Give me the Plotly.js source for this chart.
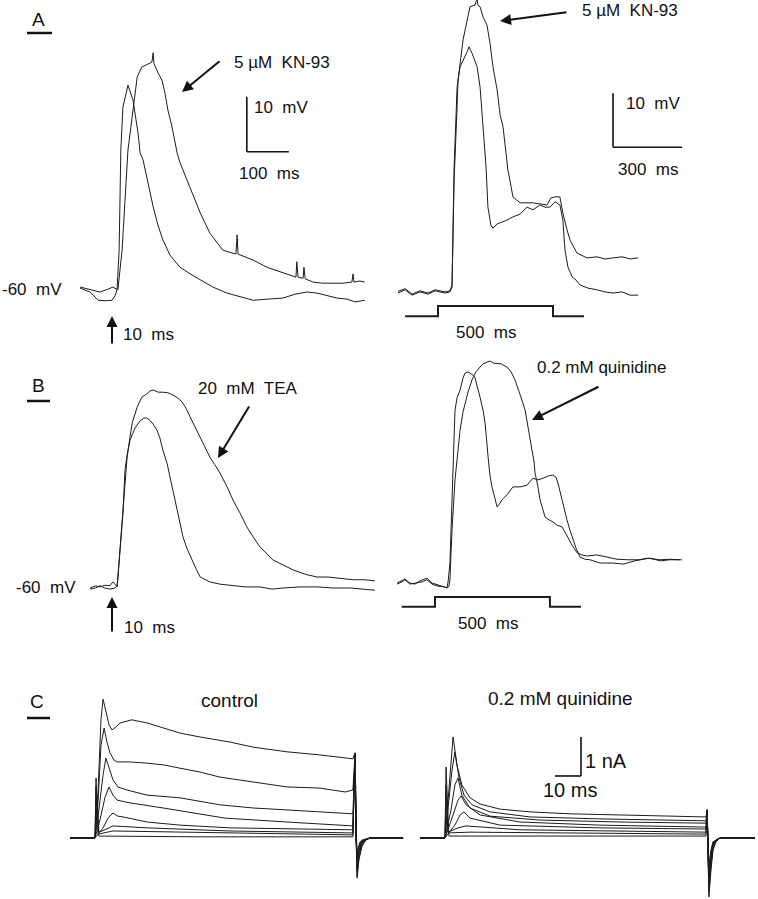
<!DOCTYPE html>
<html>
<head>
<meta charset="utf-8">
<script src="https://cdn.plot.ly/plotly-3.0.1.min.js"></script>
<style>
  html, body { margin: 0; padding: 0; background: #fff; }
  #fig { width: 758px; height: 899px; }
</style>
</head>
<body>
<div id="fig"></div>
<script>
// ---- panel A, left: time (ms) from stimulus, membrane potential (mV)
const aLeftCtrlT = [-76,-52,-33,-17,0,7,12,17,21,26,38,50,62,67,74,86,98,110,121,138,162,186,210,240,274,305,336,371,407,436,464,488,512,536,560,579,602];
const aLeftCtrlV = [-59.3,-60,-61.5,-61.6,-61.5,-60.7,-59.6,-52.4,-34.2,-26.4,-22.4,-25.1,-31.1,-34.7,-36,-40.5,-44.5,-48,-50.5,-53.3,-55.5,-56.7,-57.8,-59.1,-60.2,-60.9,-61.5,-61.3,-61.1,-60.4,-60,-60.2,-60.7,-61.1,-61.3,-61.8,-61.5];
const aLeftKnT = [-76,-52,-29,-10,2,14,24,31,38,48,60,71,83,90,95,98,100,110,119,126,133,143,155,162,186,210,233,264,295,298,300,317,336,369,407,438,440,443,455,457,460,479,502,526,550,571,574,576,590,602];
const aLeftKnV = [-59.1,-59.6,-60,-59.5,-59.1,-59.6,-52.4,-43.3,-34.2,-28.2,-20.9,-19.1,-18.7,-18.4,-18.2,-16.5,-18.5,-20.2,-21.5,-23.8,-26.9,-30,-34.7,-36.5,-40.9,-45.6,-49.3,-52.4,-53.1,-49.6,-53.1,-53.6,-54.2,-55.5,-56.5,-57.3,-54.5,-57.3,-57.5,-55.5,-57.6,-58.2,-58.4,-58.4,-58.4,-58.2,-56.7,-58.2,-58,-58.2];

// ---- panel A, right: 500 ms current step
const aRightCtrlT = [-174,-143,-113,-78,-43,-13,30,52,61,70,83,96,126,135,148,170,183,191,209,217,230,239,257,270,300,326,357,387,413,443,465,487,509,530,543,552,565,583,600,617,652,691,726,761,800,835,870];
const aRightCtrlV = [-60,-59.4,-60.4,-59.8,-60.2,-59.6,-60,-59.8,-58.9,-36.7,-21.9,-18.1,-15.4,-14.4,-15.6,-18.1,-21.9,-26.1,-36.7,-44.1,-47.4,-48,-47.2,-47,-46.5,-45.9,-45.4,-44.1,-44.6,-43.7,-44.1,-44.1,-43.1,-43.7,-46.5,-52,-55.2,-57,-57.6,-58.5,-59.1,-59.4,-59.8,-60,-59.8,-60.4,-60.4];
const aRightKnT = [-174,-143,-113,-78,-43,-13,30,52,61,70,83,87,109,126,139,152,161,165,170,174,183,196,213,226,239,257,270,283,304,326,357,387,413,443,474,491,509,530,543,561,574,604,648,691,726,761,800,835,870];
const aRightKnV = [-59.7,-59.2,-60.2,-59.6,-60,-59.4,-59.8,-59.6,-58.5,-39.1,-25.6,-20.6,-13.1,-9.4,-7,-6.8,-6.7,-6.1,-5.7,-6.7,-7,-8.9,-10.4,-13.7,-18.1,-22.4,-27,-29.3,-37.2,-42.2,-43.3,-43.3,-43.3,-43.5,-43.7,-42.4,-42.2,-42.2,-45.2,-48.3,-50.2,-52.6,-53.5,-53.3,-53.7,-53.5,-53.3,-53.7,-53.5];
const aStepT = [-143,0,0,500,500,635];
const aStepV = [-64.3,-64.3,-62.4,-62.4,-64.3,-64.3];

// ---- panel B, left: 10 ms stimulus, control and 20 mM TEA
const bLeftCtrlT = [-52,-40,-29,-17,-5,7,12,14,21,26,31,36,43,55,67,76,83,90,98,107,114,121,131,138,145,155,162,169,179,190,200,210,221,233,257,288,317,352,381,407,448,488,526,567,595,626];
const bLeftCtrlV = [-60.2,-60,-59.6,-60,-60.2,-60,-59.6,-58.2,-51.3,-46.4,-38.5,-35.8,-33.1,-30.9,-29.6,-29.1,-29.1,-29.5,-30.2,-31.3,-32.7,-34.9,-37.3,-39.8,-42.5,-45.8,-48.5,-50.7,-52.9,-54.9,-56.5,-58,-58.5,-58.9,-59.3,-59.5,-59.8,-59.8,-60.2,-60,-59.8,-59.8,-60,-60,-60.2,-60.4];
const bLeftTeaT = [-52,-40,-29,-17,-5,2,7,12,14,21,26,31,36,43,48,60,71,83,90,98,110,121,133,145,157,167,176,186,198,210,221,233,245,257,274,288,305,321,336,352,369,383,407,431,460,488,514,543,574,602,626];
const bLeftTeaV = [-60,-59.6,-59.8,-59.5,-59.6,-58.9,-59.3,-59.8,-58,-51.3,-46.4,-41.3,-36.2,-32.5,-30,-27.1,-25.3,-24.7,-24.2,-24,-24.4,-24.4,-24.5,-24.9,-25.5,-26.2,-27.3,-28.9,-30.7,-32.5,-34.4,-36.2,-37.6,-39.1,-41.6,-44,-46.4,-48.9,-50.7,-52.5,-53.8,-54.9,-55.8,-56.7,-57.5,-58,-58,-58.2,-58.5,-58.5,-58.7];

// ---- panel B, right: 500 ms step, control and 0.2 mM quinidine
const bRightCtrlT = [-165,-144,-131,-109,-87,-65,-35,-13,13,39,52,57,65,74,78,87,96,109,122,131,144,152,165,174,187,196,209,218,231,239,248,261,270,283,291,313,339,370,400,426,448,470,492,513,526,535,552,566,574,587,596,613,631,653,674,718,774,818,870,922,979,1022,1066];
const bRightCtrlV = [-60,-59.6,-59.3,-60,-60.2,-59.6,-59.1,-60,-60.4,-60.7,-60.9,-59.8,-56.3,-44.6,-37.8,-28,-25.7,-24.3,-22,-21.1,-20.9,-21.1,-21.5,-22,-23.9,-25.6,-28,-30.4,-36.7,-40,-42.2,-44.6,-45.9,-45.2,-44.6,-43.7,-42.2,-42.2,-41.9,-40.6,-40.9,-40.6,-40.2,-40,-40.4,-41.5,-44.6,-46.9,-48.3,-50.2,-51.5,-53.5,-55.2,-55.6,-55.7,-56.3,-56.3,-56.5,-55.9,-55.4,-55.7,-55.6,-55.7];
const bRightQuinT = [-165,-144,-131,-109,-83,-57,-35,-13,13,39,52,61,65,74,87,100,109,122,131,144,161,178,196,209,226,239,257,270,287,313,331,348,365,378,392,400,413,422,431,435,448,457,470,479,496,513,531,552,566,579,596,618,639,661,705,748,792,840,892,935,979,1022,1074];
const bRightQuinV = [-60.2,-59.8,-59.4,-60.2,-60,-59.8,-59.4,-60.2,-60.6,-60.7,-60.9,-60.6,-59.4,-50.2,-40.9,-35.4,-31.7,-28.3,-26.7,-24.6,-22.4,-20.9,-20,-19.4,-19.1,-18.9,-19.3,-19.3,-19.4,-20,-20.9,-22.4,-24.3,-26.1,-28,-29.8,-33,-35.4,-37.6,-39.6,-42.2,-44.6,-46.5,-47.8,-48.3,-48.7,-49.3,-49.6,-50.6,-51.7,-53,-54.4,-54.8,-55,-54.8,-55.2,-55.6,-55.7,-55.7,-55.4,-55.9,-55.7,-55.7];
const bStepT = [-145,0,0,500,500,635];
const bStepV = [-64.4,-64.4,-62.6,-62.6,-64.4,-64.4];

// ---- panel C: whole-cell currents (nA) during 100 ms voltage steps
const cLeftT = [
  [-9.6,0,1.2,2.3,3.1,4.2,5.4,6.5,8.1,9.6,14.2,20,25,32.7,40.4,51.9,60.8,73.8,86.5,99.2,100,100.4,100.8,101.5,102.7,104.2,105.8,118.5],
  [-9.6,0,1.2,2.3,3.5,4.6,5.8,7.3,8.5,13.5,20,26.9,32.7,40.4,48.1,60.8,73.8,86.5,96.2,99.2,100,100.4,100.8,101.5,102.7,104.2,105.8,118.5],
  [-9.6,0,1.5,3.1,4.2,5.4,6.9,8.8,12.3,20,32.7,48.1,60.8,73.8,86.5,99.2,100,100.4,100.8,101.5,102.7,104.2,105.8,118.5],
  [-9.6,0,1.9,3.8,5.4,6.9,8.5,13.5,26.2,50,73.8,99.2,100,100.4,100.8,101.5,102.7,104.2,105.8,118.5],
  [-9.6,0,3.1,5,6.9,8.8,10.8,20,32.7,51.9,99.2,100,100.4,100.8,101.5,102.7,104.2,105.8,118.5],
  [-9.6,0,0.8,1.5,3.8,6.9,20,51.9,99.2,100,100.4,100.8,101.5,102.7,105.8,118.5],
  [-9.6,0,0.4,1.2,6.9,51.9,99.2,100,100.4,100.8,101.5,102.7,105.8,118.5],
  [-9.6,0,0.4,0.8,1.5,40.4,99.2,100,100.4,100.8,101.9,105.8,118.5]
];
const cLeftI = [
  [0,0,1.23,3.03,3.56,3.23,2.9,2.77,2.85,2.95,3.03,2.95,2.85,2.69,2.59,2.46,2.33,2.21,2.13,2.03,2.18,0,-1.03,-0.56,-0.21,-0.05,0,0],
  [0,0,0.97,2.38,2.82,2.46,2.18,2,1.95,1.95,1.92,1.87,1.79,1.69,1.56,1.44,1.31,1.28,1.18,1.23,2.18,0,-0.97,-0.51,-0.18,-0.05,0,0],
  [0,0,0.72,1.62,2.05,1.79,1.49,1.31,1.23,1.1,1.03,0.85,0.77,0.72,0.67,0.62,2.18,0,-0.87,-0.46,-0.15,-0.03,0,0],
  [0,0,0.46,1.03,1.31,1.1,0.97,0.9,0.77,0.51,0.41,0.31,2.18,0,-0.77,-0.38,-0.13,-0.03,0,0],
  [0,0,0.26,0.51,0.64,0.56,0.54,0.41,0.33,0.26,0.21,2.18,0,-0.67,-0.31,-0.1,-0.03,0,0],
  [0,0,1.1,0.15,0.21,0.31,0.26,0.18,0.13,2.18,0,-0.56,-0.26,-0.08,0,0],
  [0,0,1.33,0.1,0.18,0.13,0.08,2.18,0,-0.46,-0.21,-0.05,0,0],
  [0,0,1.54,0.67,0.05,0.03,0.03,2.18,0,-0.36,-0.1,0,0]
];
const cRightT = [
  [-9.6,0,1.5,3.1,4.6,6.5,9.6,13.5,21.2,32.7,48.1,67.3,86.5,100.4,100.8,101.5,102.3,103.1,104.2,105.8,119.2],
  [-9.6,0,1.5,2.7,3.8,5.4,7.3,10.4,17.3,32.7,59.6,100.4,100.8,101.5,102.3,103.1,104.2,105.8,119.2],
  [-9.6,0,2.3,3.8,5,6.5,9.6,17.3,36.5,67.3,100.4,100.8,101.5,102.3,103.1,104.2,105.8,119.2],
  [-9.6,0,3.1,5,6.2,8.1,13.5,28.8,59.6,100.4,100.8,101.5,102.3,103.1,104.2,105.8,119.2],
  [-9.6,0,3.8,5.8,7.3,9.6,21.2,59.6,100.4,100.8,101.5,102.3,103.1,104.2,105.8,119.2],
  [-9.6,0,0.4,1.2,5,8.1,28.8,100.4,100.8,101.5,102.3,103.1,105.8,119.2],
  [-9.6,0,0.4,1.2,9.6,100.4,100.8,101.5,102.3,103.1,105.8,119.2],
  [-9.6,0,0.4,0.8,1.5,100.4,100.8,101.5,102.3,103.1,105.8,119.2]
];
const cRightI = [
  [0,0,1.23,2.59,1.87,1.36,1.03,0.87,0.74,0.67,0.62,0.59,0.56,0.54,0.72,-1.51,-0.82,-0.31,-0.1,0,0],
  [0,0,0.97,1.74,2.21,1.54,1.1,0.85,0.67,0.54,0.49,0.44,0.72,-1.38,-0.72,-0.26,-0.08,0,0],
  [0,0,0.72,1.36,1.54,1.1,0.77,0.56,0.46,0.41,0.38,0.72,-1.28,-0.62,-0.21,-0.05,0,0],
  [0,0,0.59,0.97,1.08,0.85,0.59,0.41,0.33,0.28,0.72,-1.18,-0.56,-0.18,-0.05,0,0],
  [0,0,0.33,0.59,0.67,0.51,0.33,0.26,0.23,0.72,-1.08,-0.51,-0.15,-0.05,0,0],
  [0,0,0.97,0.15,0.26,0.31,0.21,0.15,0.72,-0.95,-0.44,-0.13,0,0],
  [0,0,1.36,0.13,0.15,0.1,0.72,-0.82,-0.36,-0.1,0,0],
  [0,0,1.82,0.97,0.05,0.05,0.72,-0.69,-0.31,-0.1,0,0]
];

// ---- page geometry: every panel gets its own overlaid, hidden axis pair
const W = 758, H = 899;
const FONT = 'Liberation Sans, Arial, Helvetica, sans-serif';
const INK = '#1c1c1c';

// x0/y0: pixel of t=0 and of the reference level, per-pixel units
const panels = [
  { id: '',  x0: 112, xPer: 100 / 42, y0: 292, yPer: 10 / 55, ref: -60 },
  { id: '2', x0: 438, xPer: 300 / 69, y0: 293, yPer: 10 / 54, ref: -60 },
  { id: '3', x0: 112, xPer: 100 / 42, y0: 588, yPer: 10 / 55, ref: -60 },
  { id: '4', x0: 435, xPer: 4.35,     y0: 583, yPer: 10 / 54, ref: -60 },
  { id: '5', x0: 95,  xPer: 10 / 26,  y0: 838, yPer: 1 / 39,  ref: 0 },
  { id: '6', x0: 445, xPer: 10 / 26,  y0: 838, yPer: 1 / 39,  ref: 0 }
];

const layout = {
  width: W, height: H,
  margin: { l: 0, r: 0, t: 0, b: 0 },
  paper_bgcolor: '#fff', plot_bgcolor: 'rgba(0,0,0,0)',
  showlegend: false,
  shapes: [], annotations: []
};

panels.forEach(p => {
  const xa = {
    domain: [0, 1], visible: false, fixedrange: true,
    range: [-p.x0 * p.xPer, (W - p.x0) * p.xPer]
  };
  const ya = {
    domain: [0, 1], visible: false, fixedrange: true,
    range: [p.ref - (H - p.y0) * p.yPer, p.ref + p.y0 * p.yPer]
  };
  if (p.id) {
    xa.overlaying = 'x'; ya.overlaying = 'y';
    xa.anchor = 'y' + p.id; ya.anchor = 'x' + p.id;
  }
  layout['xaxis' + p.id] = xa;
  layout['yaxis' + p.id] = ya;
});

function trace(x, y, id, width) {
  return {
    x: x, y: y, xaxis: 'x' + id, yaxis: 'y' + id,
    type: 'scatter', mode: 'lines', hoverinfo: 'skip',
    line: { color: INK, width: width || 1 }
  };
}

const data = [
  trace(aLeftCtrlT, aLeftCtrlV, ''),
  trace(aLeftKnT, aLeftKnV, ''),
  trace(aRightCtrlT, aRightCtrlV, '2'),
  trace(aRightKnT, aRightKnV, '2'),
  trace(aStepT, aStepV, '2', 2),
  trace(bLeftCtrlT, bLeftCtrlV, '3'),
  trace(bLeftTeaT, bLeftTeaV, '3'),
  trace(bRightCtrlT, bRightCtrlV, '4'),
  trace(bRightQuinT, bRightQuinV, '4'),
  trace(bStepT, bStepV, '4', 2)
];
cLeftT.forEach((t, i) => data.push(trace(t, cLeftI[i], '5')));
cRightT.forEach((t, i) => data.push(trace(t, cRightI[i], '6')));

// scale bars in data units (L shape; side = 1 puts the vertical bar on the left)
function scaleBar(id, t0, v0, dt, dv, side) {
  const s = { type: 'line', xref: 'x' + id, yref: 'y' + id, line: { color: '#111', width: 1.6 } };
  const tEnd = side > 0 ? t0 + dt : t0 - dt;
  layout.shapes.push(Object.assign({}, s, { x0: t0, y0: v0, x1: t0, y1: v0 + dv }));
  layout.shapes.push(Object.assign({}, s, { x0: t0, y0: v0, x1: tEnd, y1: v0 }));
}
scaleBar('', 321, -34.5, 100, 10, 1);
scaleBar('2', 761, -33, 300, 10, 1);
scaleBar('6', 52.3, 1.59, 10, 1, -1);

// page-pixel helpers for lettering
const px = x => x / W;
const py = y => 1 - y / H;
const sp = '\u00a0';

function label(text, x, y, size) {
  layout.annotations.push({
    text: text, xref: 'paper', yref: 'paper', x: px(x), y: py(y),
    xanchor: 'center', yanchor: 'middle', showarrow: false,
    font: { family: FONT, size: size || 17, color: '#111' }
  });
}
function arrow(hx, hy, tx, ty) {
  layout.annotations.push({
    text: '', xref: 'paper', yref: 'paper', x: px(hx), y: py(hy),
    ax: tx - hx, ay: ty - hy, showarrow: true,
    arrowhead: 2, arrowsize: 1.1, arrowwidth: 2, arrowcolor: '#111'
  });
}
function underline(x0, x1, y) {
  layout.shapes.push({
    type: 'line', xref: 'paper', yref: 'paper',
    x0: px(x0), x1: px(x1), y0: py(y), y1: py(y),
    line: { color: '#111', width: 2.5 }
  });
}

// panel letters
label('A', 38, 20, 19); underline(27, 52, 33);
label('B', 38, 385, 19); underline(27, 50, 401);
label('C', 37, 701, 19); underline(27, 50, 718);

// panel A
label('5 µM' + sp + ' KN-93', 282, 62);
arrow(182, 92, 221, 60);
label('10' + sp + ' mV', 281, 108);
label('100' + sp + ' ms', 269, 173);
label('-60' + sp + ' mV', 32, 289);
arrow(112, 316, 112, 345);
label('10' + sp + ' ms', 148, 334);
label('5 µM' + sp + ' KN-93', 630, 11);
arrow(500, 21, 568, 12);
label('10' + sp + ' mV', 653, 103);
label('300' + sp + ' ms', 648, 169);
label('500' + sp + ' ms', 486, 333);

// panel B
label('20' + sp + ' mM' + sp + ' TEA', 248, 388);
arrow(218, 458, 250, 405);
label('-60' + sp + ' mV', 46, 587);
arrow(112, 597, 112, 633);
label('10' + sp + ' ms', 149, 627);
label('0.2 mM quinidine', 601, 368);
arrow(532, 420, 600, 386);
label('500' + sp + ' ms', 488, 623);

// panel C
label('control', 229, 700, 19);
label('0.2 mM quinidine', 560, 698, 19);
label('1 nA', 606, 761, 20);
label('10 ms', 570, 790, 20);

Plotly.newPlot('fig', data, layout, { staticPlot: true, displayModeBar: false });
</script>
</body>
</html>
